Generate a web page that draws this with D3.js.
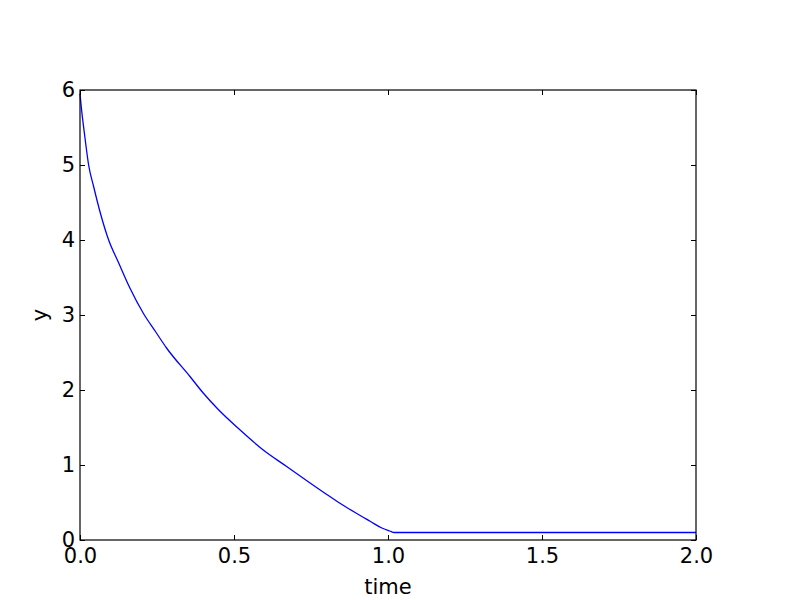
<!DOCTYPE html>
<html>
<head>
<meta charset="utf-8">
<script src="https://cdn.jsdelivr.net/npm/d3@7"></script>
<style>
  body { margin: 0; background: white; }
  text { font-family: "DejaVu Sans", sans-serif; }
</style>
</head>
<body>
<svg id="chart"></svg>
<script>
// values
let timeVals = [0.0, 0.004, 0.015, 0.028, 0.045, 0.066, 0.093, 0.125, 0.162, 0.206, 0.245, 0.281,
                0.357, 0.40, 0.449, 0.519, 0.595, 0.671, 0.74, 0.80, 0.844, 0.90, 0.942, 0.98, 1.006, 1.02, 2.0];
let yVals = [5.95, 5.78, 5.40, 5.0, 4.70, 4.36, 4.0, 3.7, 3.36, 3.02, 2.78, 2.56,
             2.18, 1.96, 1.74, 1.47, 1.2, 0.98, 0.78, 0.61, 0.49, 0.35, 0.25, 0.16, 0.12, 0.1, 0.1];
let xTicks = [0.0, 0.5, 1.0, 1.5, 2.0];
let yTicks = [0, 1, 2, 3, 4, 5, 6];

let width = 800, height = 600;
let margin = {left: 80, right: 104, top: 90, bottom: 60};
let tickLen = 5;
let fontSize = 21;

let svg = d3.select("#chart")
  .attr("width", width)
  .attr("height", height);

let x = d3.scaleLinear().domain([0, 2]).range([margin.left, width - margin.right]);
let y = d3.scaleLinear().domain([0, 6]).range([height - margin.bottom, margin.top]);

let series = timeVals.map((t, i) => ({t: t, v: yVals[i]}));

// the curve
let line = d3.line()
  .x(d => x(d.t))
  .y(d => y(d.v))
  .curve(d3.curveMonotoneX);

svg.append("path")
  .datum(series)
  .attr("fill", "none")
  .attr("stroke", "#0000ff")
  .attr("stroke-width", 1.3)
  .attr("d", line);

// axes, ticks pointing inward on all four sides (old matplotlib look)
function styleAxis(g) {
  g.select(".domain").remove();
  g.selectAll("line").attr("stroke", "#000").attr("stroke-width", 1);
  g.selectAll("text").attr("font-size", fontSize).attr("fill", "#000");
}

svg.append("g")
  .attr("transform", `translate(0,${y(0)})`)
  .call(d3.axisBottom(x).tickValues(xTicks).tickFormat(d3.format(".1f")).tickSizeInner(-tickLen).tickPadding(8))
  .call(styleAxis);

svg.append("g")
  .attr("transform", `translate(0,${y(6)})`)
  .call(d3.axisTop(x).tickValues(xTicks).tickFormat("").tickSizeInner(-tickLen))
  .call(styleAxis);

svg.append("g")
  .attr("transform", `translate(${x(0)},0)`)
  .call(d3.axisLeft(y).tickValues(yTicks).tickFormat(d3.format("d")).tickSizeInner(-tickLen).tickPadding(5))
  .call(styleAxis);

svg.append("g")
  .attr("transform", `translate(${x(2)},0)`)
  .call(d3.axisRight(y).tickValues(yTicks).tickFormat("").tickSizeInner(-tickLen))
  .call(styleAxis);

// frame
svg.append("rect")
  .attr("x", x(0))
  .attr("y", y(6))
  .attr("width", x(2) - x(0))
  .attr("height", y(0) - y(6))
  .attr("fill", "none")
  .attr("stroke", "#000")
  .attr("stroke-width", 1.2);

// axis labels
svg.append("text")
  .attr("x", (x(0) + x(2)) / 2)
  .attr("y", 594)
  .attr("text-anchor", "middle")
  .attr("font-size", fontSize)
  .text("time");

svg.append("text")
  .attr("transform", `translate(47,${(y(0) + y(6)) / 2}) rotate(-90)`)
  .attr("text-anchor", "middle")
  .attr("font-size", fontSize)
  .text("y");
</script>
</body>
</html>
